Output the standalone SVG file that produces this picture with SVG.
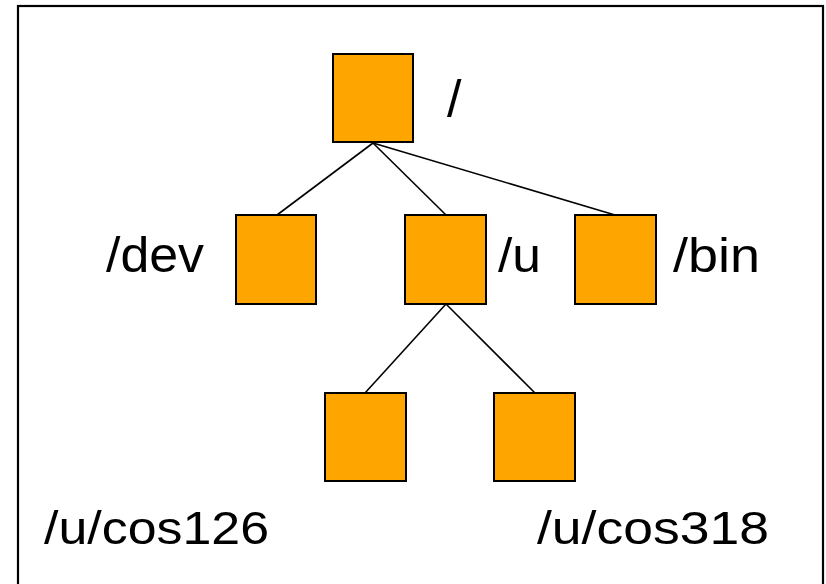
<svg xmlns="http://www.w3.org/2000/svg" width="826" height="584" viewBox="0 0 826 584">
  <style>
    .node { fill: #FFA500; stroke: #000; stroke-width: 2; }
    .edge { stroke: #000; stroke-width: 1.6; fill: none; }
    .label { font-family: "Liberation Sans", Arial, sans-serif; fill: #000; }
  </style>
  <rect x="18" y="6" width="805" height="580" fill="#fff" stroke="#000" stroke-width="2.2"/>

  <g id="connectors">
    <line class="edge" x1="373" y1="143" x2="277" y2="215"/>
    <line class="edge" x1="373" y1="143" x2="446" y2="215"/>
    <line class="edge" x1="373" y1="143" x2="615" y2="215"/>
    <line class="edge" x1="446" y1="304" x2="365" y2="393"/>
    <line class="edge" x1="446" y1="304" x2="535" y2="393"/>
  </g>

  <g id="root">
    <rect class="node" x="333" y="54" width="80" height="88"/>
    <text class="label" x="447" y="117" font-size="52">/</text>
  </g>
  <g id="dev">
    <rect class="node" x="236" y="215" width="80" height="89"/>
    <text class="label" x="106" y="272" font-size="50" textLength="98" lengthAdjust="spacingAndGlyphs">/dev</text>
  </g>
  <g id="u">
    <rect class="node" x="405" y="215" width="81" height="89"/>
    <text class="label" x="498" y="272" font-size="49" textLength="43" lengthAdjust="spacingAndGlyphs">/u</text>
  </g>
  <g id="bin">
    <rect class="node" x="575" y="215" width="81" height="89"/>
    <text class="label" x="673" y="272" font-size="48" textLength="87" lengthAdjust="spacingAndGlyphs">/bin</text>
  </g>
  <g id="cos126">
    <rect class="node" x="325" y="393" width="81" height="88"/>
    <text class="label" x="44" y="544" font-size="46" textLength="225" lengthAdjust="spacingAndGlyphs">/u/cos126</text>
  </g>
  <g id="cos318">
    <rect class="node" x="494" y="393" width="81" height="88"/>
    <text class="label" x="537" y="544" font-size="46" textLength="232" lengthAdjust="spacingAndGlyphs">/u/cos318</text>
  </g>
</svg>
